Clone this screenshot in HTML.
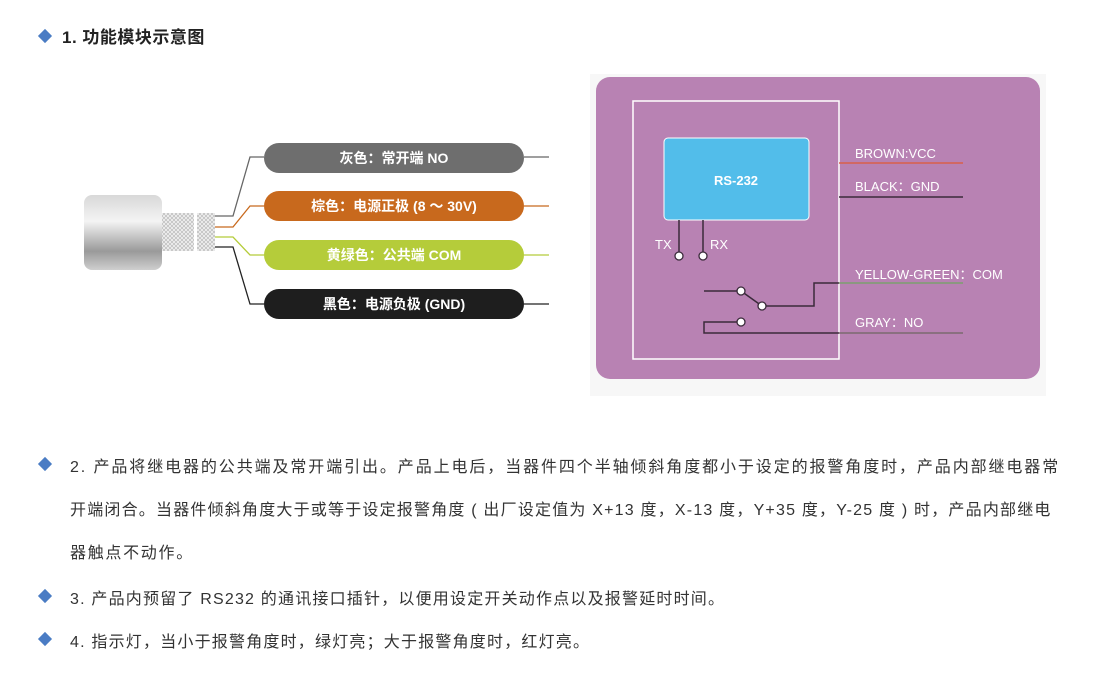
<!DOCTYPE html>
<html><head><meta charset="utf-8"><style>
body{margin:0;width:1100px;height:685px;background:#fff;position:relative;overflow:hidden;font-family:"Liberation Sans","Noto Sans CJK SC",sans-serif;}
.t{position:absolute;white-space:nowrap;color:#333;font-size:16px;letter-spacing:1.7px;}
.d{position:absolute;width:10px;height:10px;background:#4a7cc4;transform:rotate(45deg);}
.pill{position:absolute;left:264px;width:260px;height:30px;border-radius:15px;color:#fff;font-weight:bold;font-size:14px;line-height:30px;text-align:center;}
</style></head><body>
<div class="d" style="left:40px;top:31px"></div>
<div class="t" style="left:62px;top:23px;font-weight:bold;font-size:17px;letter-spacing:0.5px;color:#222">1. 功能模块示意图</div>

<svg style="position:absolute;left:0;top:0" width="1100" height="420">
<defs>
<linearGradient id="cg" x1="0" y1="0" x2="0" y2="1"><stop offset="0" stop-color="#d8d8d8"/><stop offset="0.35" stop-color="#f4f4f4"/><stop offset="0.75" stop-color="#9a9a9a"/><stop offset="1" stop-color="#cfcfcf"/></linearGradient>
<pattern id="br" width="4" height="4" patternUnits="userSpaceOnUse"><rect width="4" height="4" fill="#bbb"/><path d="M0 0L4 4M4 0L0 4" stroke="#eee" stroke-width="1"/></pattern>
</defs>
<rect x="84" y="195" width="78" height="75" rx="8" fill="url(#cg)"/>
<rect x="162" y="213" width="32" height="38" fill="url(#br)"/>
<rect x="197" y="213" width="18" height="38" fill="url(#br)"/>
<g fill="none" stroke-width="1.3">
<path d="M215 216H233L250 157H264" stroke="#666"/>
<path d="M215 227H233L250 206H264" stroke="#c8691d"/>
<path d="M215 237H233L250 255H264" stroke="#b5cc3a"/>
<path d="M215 247H233L250 304H264" stroke="#222"/>
<path d="M524 157H549" stroke="#666"/><path d="M524 206H549" stroke="#c8691d"/>
<path d="M524 255H549" stroke="#b5cc3a"/><path d="M524 304H549" stroke="#222"/>
</g>
<rect x="590" y="74" width="456" height="322" fill="#f7f7f7"/>
<rect x="596" y="77" width="444" height="302" rx="14" fill="#b882b3"/>
<rect x="633" y="101" width="206" height="258" fill="none" stroke="#fff" stroke-width="1.5"/>
<rect x="664" y="138" width="145" height="82" rx="4" fill="#52bdea" stroke="#fff" stroke-width="1"/>
<text x="736" y="185" fill="#fff" font-size="13" font-weight="bold" text-anchor="middle" font-family="Liberation Sans">RS-232</text>
<g fill="none" stroke-width="1.5">
<path d="M839 163H963" stroke="#d9604a"/>
<path d="M839 197H963" stroke="#3a2a3a"/>
<path d="M679 220V256M703 220V256" stroke="#3a2a3a"/>
<path d="M704 291H741L762 306H814V283H839" stroke="#3a2a3a"/>
<path d="M839 283H963" stroke="#7ca070"/>
<path d="M741 322H704V333H839" stroke="#3a2a3a"/>
<path d="M839 333H963" stroke="#7a6a70"/>
</g>
<g fill="#fff" stroke="#3a2a3a" stroke-width="1.3">
<circle cx="679" cy="256" r="4"/><circle cx="703" cy="256" r="4"/>
<circle cx="741" cy="291" r="4"/><circle cx="762" cy="306" r="4"/><circle cx="741" cy="322" r="4"/>
</g>
<g fill="#fff" font-size="13" font-family="Liberation Sans,Noto Sans CJK SC,sans-serif">
<text x="655" y="249">TX</text><text x="710" y="249">RX</text>
<text x="855" y="158">BROWN:VCC</text>
<text x="855" y="191">BLACK：GND</text>
<text x="855" y="279">YELLOW-GREEN：COM</text>
<text x="855" y="327">GRAY：NO</text>
</g>
</svg>
<div class="pill" style="top:143px;background:#6e6e6e">灰色：常开端 NO</div>
<div class="pill" style="top:191px;background:#c8691d">棕色：电源正极 (8 ～ 30V)</div>
<div class="pill" style="top:240px;background:#b5cc3a">黄绿色：公共端 COM</div>
<div class="pill" style="top:289px;background:#1e1e1e">黑色：电源负极 (GND)</div>

<div class="d" style="left:40px;top:459px"></div>
<div class="t" style="left:70px;top:453px;letter-spacing:1.9px">2. 产品将继电器的公共端及常开端引出。产品上电后，当器件四个半轴倾斜角度都小于设定的报警角度时，产品内部继电器常</div>
<div class="t" style="left:70px;top:496px;letter-spacing:1.2px">开端闭合。当器件倾斜角度大于或等于设定报警角度 ( 出厂设定值为 X+13 度，X-13 度，Y+35 度，Y-25 度 ) 时，产品内部继电</div>
<div class="t" style="left:70px;top:539px">器触点不动作。</div>
<div class="d" style="left:40px;top:591px"></div>
<div class="t" style="left:70px;top:585px;letter-spacing:1.2px">3. 产品内预留了 RS232 的通讯接口插针，以便用设定开关动作点以及报警延时时间。</div>
<div class="d" style="left:40px;top:634px"></div>
<div class="t" style="left:70px;top:628px;letter-spacing:1.2px">4. 指示灯，当小于报警角度时，绿灯亮；大于报警角度时，红灯亮。</div>
</body></html>
